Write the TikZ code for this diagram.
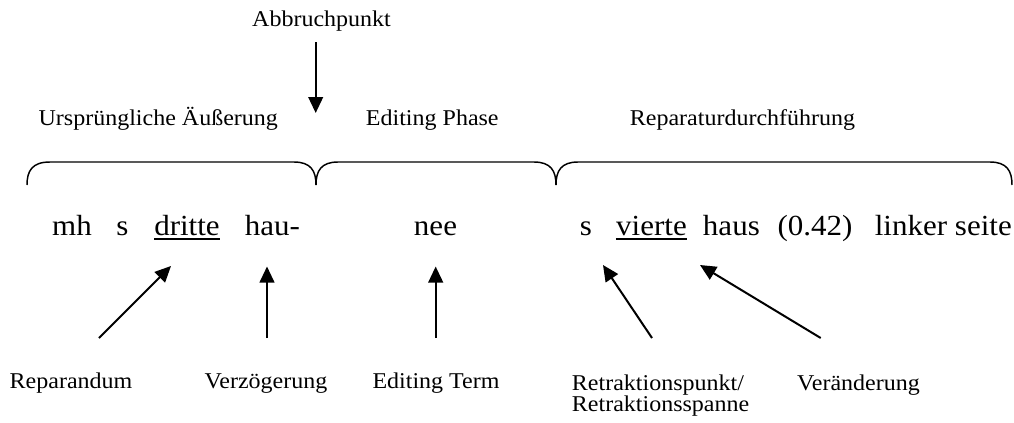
\documentclass[tikz,border=0pt]{standalone}
\usepackage{fontspec}
\setmainfont{Liberation Serif}
\usetikzlibrary{arrows.meta}
\newcommand{\vsq}[1]{\scalebox{1}[0.94]{#1}}
\begin{document}
\begin{tikzpicture}[x=0.75pt,y=-0.75pt,
  mainword/.style={font=\fontsize{23.25}{28}\selectfont, inner sep=0pt, anchor=base},
  lab/.style={font=\fontsize{18}{21}\selectfont, inner sep=0pt, anchor=base},
  arr/.style={-{Triangle[length=12pt,width=11pt]}, line width=1.5pt},
  bracepath/.style={line width=1.1pt},
  uline/.style={line width=1.4pt}]
\useasboundingbox (0,0) rectangle (1014,422);

% top labels
\node[lab] (abb) at (321.5,26.7) {\vsq{Abbruchpunkt}};
\node[lab] (orig) at (158.3,125) {\vsq{Ursprüngliche Äußerung}};
\node[lab] (ephase) at (432.3,125) {\vsq{Editing Phase}};
\node[lab] (repd) at (742.5,125) {\vsq{Reparaturdurchführung}};

% braces
\draw[bracepath] (27,185) .. controls (27,171) and (32,162) .. (50,162) -- (294,162)
   .. controls (311,162) and (316,171) .. (316,185);
\draw[bracepath] (316,185) .. controls (316,171) and (321,162) .. (338,162) -- (534,162)
   .. controls (551,162) and (556,171) .. (556,185);
\draw[bracepath] (556,185) .. controls (556,171) and (561,162) .. (578,162) -- (990,162)
   .. controls (1007,162) and (1012,171) .. (1012,185);

% main line
\node[mainword] (mh) at (72,235.7) {\vsq{mh}};
\node[mainword] (s1) at (122.5,235.7) {\vsq{s}};
\node[mainword] (dritte) at (187,235.7) {\vsq{dritte}};
\node[mainword] (hau) at (272.5,235.7) {\vsq{hau-}};
\node[mainword] (nee) at (435.5,235.7) {\vsq{nee}};
\node[mainword] (s2) at (586,235.7) {\vsq{s}};
\node[mainword] (vierte) at (651.5,235.7) {\vsq{vierte}};
\node[mainword] (haus) at (731.4,235.7) {\vsq{haus}};
\node[mainword] (pause) at (815,235.7) {\vsq{(0.42)}};
\node[mainword, anchor=base east] (linker) at (1012,235.7) {\vsq{linker seite}};

\draw[uline] ([yshift=-2.7pt]dritte.base west) -- ([yshift=-2.7pt]dritte.base east);
\draw[uline] ([yshift=-2.7pt]vierte.base west) -- ([yshift=-2.7pt]vierte.base east);

% bottom labels
\node[lab] (reparandum) at (71,388) {\vsq{Reparandum}};
\node[lab] (verz) at (266,388) {\vsq{Verzögerung}};
\node[lab] (eterm) at (436,388) {\vsq{Editing Term}};
\node[lab, anchor=base west] (retr1) at (571.7,390) {\vsq{Retraktionspunkt/}};
\node[lab, anchor=base west] (retr2) at (571.7,411.7) {\vsq{Retraktionsspanne}};
\node[lab] (veraend) at (858.5,390) {\vsq{Veränderung}};

% arrow coordinates
\coordinate (abbT) at (315.7,42);
\coordinate (abbH) at (315.7,113);
\coordinate (repT) at (99,338);
\coordinate (repH) at (171,266);
\coordinate (verzT) at (267,338);
\coordinate (verzH) at (267,266.5);
\coordinate (etT) at (435.7,338);
\coordinate (etH) at (435.7,266.5);
\coordinate (retT) at (652,338);
\coordinate (retH) at (603,265);
\coordinate (verT) at (820.7,338);
\coordinate (verH) at (700,265);

\draw[arr] (abbT) -- (abbH);
\draw[arr] (repT) -- (repH);
\draw[arr] (verzT) -- (verzH);
\draw[arr] (etT) -- (etH);
\draw[arr] (retT) -- (retH);
\draw[arr] (verT) -- (verH);
\end{tikzpicture}
\end{document}
